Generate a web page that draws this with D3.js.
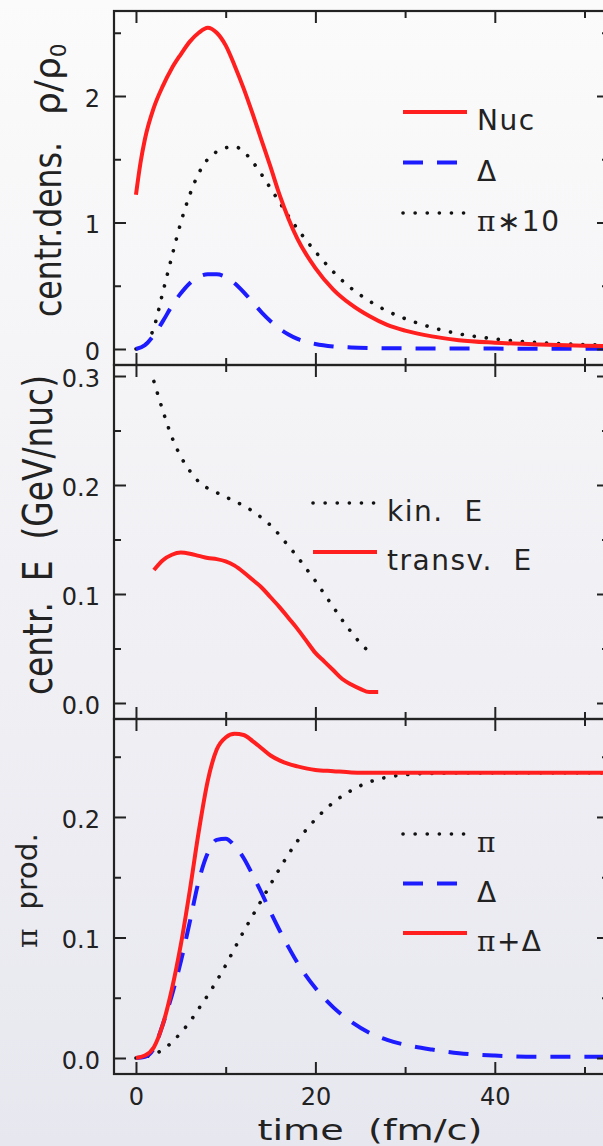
<!DOCTYPE html>
<html>
<head>
<meta charset="utf-8">
<script src="https://cdn.jsdelivr.net/npm/d3@7"></script>
<style>
  html, body { margin: 0; padding: 0; overflow: hidden; }
  svg { display: block; font-family: "DejaVu Sans", sans-serif; }
  .serif { font-family: "DejaVu Serif", serif; }
</style>
</head>
<body>
<div id="chart"></div>
<script>
// ---- data (time in fm/c) ----
// panel 1: central density rho/rho0
const tNuc   = [0, 0.5, 1, 2, 3, 4, 5, 6, 7, 8, 9, 10, 11, 12, 13, 14, 15, 16, 17, 18, 20, 22, 24, 26, 28, 30, 33, 36, 40, 45, 50, 55];
const nucDens = [1.22, 1.47, 1.66, 1.91, 2.08, 2.22, 2.33, 2.43, 2.50, 2.54, 2.50, 2.40, 2.24, 2.06, 1.86, 1.65, 1.44, 1.22, 1.03, 0.87, 0.64, 0.47, 0.35, 0.26, 0.19, 0.145, 0.10, 0.07, 0.05, 0.035, 0.025, 0.02];
const tDens  = [0, 1, 2, 3, 4, 5, 6, 7, 8, 9, 10, 11, 12, 13, 14, 15, 16, 17, 18, 20, 22, 24, 26, 28, 30, 33, 36, 40, 45, 50, 55];
const deltaDens = [0, 0.03, 0.11, 0.22, 0.34, 0.44, 0.52, 0.57, 0.59, 0.59, 0.57, 0.52, 0.45, 0.37, 0.29, 0.22, 0.16, 0.115, 0.08, 0.04, 0.02, 0.012, 0.008, 0.006, 0.005, 0.004, 0.003, 0.003, 0.002, 0.002, 0.002];
const pionDens10 = [0, 0.03, 0.17, 0.45, 0.73, 1.0, 1.22, 1.39, 1.50, 1.56, 1.59, 1.60, 1.56, 1.48, 1.38, 1.27, 1.16, 1.05, 0.95, 0.77, 0.61, 0.48, 0.38, 0.30, 0.24, 0.17, 0.12, 0.08, 0.05, 0.035, 0.025];

// panel 2: central energy (GeV/nuc)
const tKin  = [2, 3, 4, 5, 6, 7, 8, 9, 10, 11, 12, 13, 14, 15, 16, 17, 18, 19, 20, 21, 22, 23, 24, 25, 26];
const kinE  = [0.295, 0.268, 0.244, 0.226, 0.213, 0.203, 0.197, 0.193, 0.189, 0.185, 0.181, 0.176, 0.170, 0.163, 0.154, 0.144, 0.134, 0.123, 0.112, 0.100, 0.088, 0.076, 0.065, 0.055, 0.047];
const tTrans = [2, 3, 4, 5, 6, 7, 8, 9, 10, 11, 12, 13, 14, 15, 16, 17, 18, 19, 20, 21, 22, 23, 24, 25, 26, 27];
const transE = [0.122, 0.131, 0.136, 0.138, 0.137, 0.135, 0.133, 0.132, 0.130, 0.126, 0.120, 0.113, 0.106, 0.097, 0.088, 0.078, 0.068, 0.057, 0.046, 0.038, 0.030, 0.022, 0.017, 0.013, 0.010, 0.010];

// panel 3: pion production
const tProd = [0, 1, 2, 3, 4, 5, 6, 7, 8, 9, 10, 11, 12, 13, 14, 15, 16, 17, 18, 20, 22, 24, 26, 28, 30, 33, 36, 40, 45, 50, 55];
const pionProd  = [0, 0.001, 0.003, 0.007, 0.013, 0.021, 0.030, 0.041, 0.052, 0.064, 0.077, 0.091, 0.105, 0.118, 0.131, 0.144, 0.157, 0.169, 0.180, 0.198, 0.212, 0.222, 0.229, 0.233, 0.235, 0.2362, 0.2365, 0.2366, 0.2366, 0.2366, 0.2366];
const deltaProd = [0, 0.001, 0.008, 0.028, 0.052, 0.080, 0.113, 0.147, 0.170, 0.181, 0.182, 0.176, 0.166, 0.152, 0.137, 0.121, 0.106, 0.092, 0.079, 0.058, 0.042, 0.030, 0.021, 0.015, 0.011, 0.007, 0.004, 0.002, 0.001, 0.001, 0.001];
const sumProd   = [0, 0.002, 0.009, 0.028, 0.057, 0.094, 0.139, 0.188, 0.230, 0.256, 0.266, 0.269, 0.268, 0.263, 0.257, 0.251, 0.247, 0.244, 0.242, 0.239, 0.238, 0.237, 0.2367, 0.2366, 0.2366, 0.2366, 0.2366, 0.2366, 0.2366, 0.2366, 0.2366];

// ticks
const xMajor = [0, 20, 40], xMinor = [10, 30, 50];
const y1Major = [0, 1, 2], y1Minor = [0.5, 1.5, 2.5];
const y2Major = [0, 0.1, 0.2, 0.3], y2Minor = [0.05, 0.15, 0.25];
const y3Major = [0, 0.1, 0.2], y3Minor = [0.05, 0.15, 0.25];

// ---- layout ----
const W = 603, H = 1146;
const left = 114, right = 609;
const RED = "#ff1f1f", BLUE = "#1c1cff", BLK = "#111";

const svg = d3.select("#chart").append("svg")
  .attr("width", W).attr("height", H);

const defs = svg.append("defs");
const grad = defs.append("linearGradient").attr("id", "bg")
  .attr("x1", 0).attr("y1", 0).attr("x2", 0).attr("y2", 1);
grad.append("stop").attr("offset", "0%").attr("stop-color", "#fbfbfb");
grad.append("stop").attr("offset", "100%").attr("stop-color", "#e7e7ef");
svg.append("rect").attr("width", W).attr("height", H).attr("fill", "url(#bg)");

const x = d3.scaleLinear().domain([-2.45, 52.73]).range([left, right]);

const panels = [
  { top: 11,  bottom: 365,  domain: [-0.1265, 2.672], major: y1Major, minor: y1Minor, fmt: d3.format("d") },
  { top: 365, bottom: 719,  domain: [-0.01468, 0.3101], major: y2Major, minor: y2Minor, fmt: d3.format(".1f") },
  { top: 719, bottom: 1074, domain: [-0.01328, 0.2813], major: y3Major, minor: y3Minor, fmt: d3.format(".1f") }
];

panels.forEach((p, i) => {
  p.y = d3.scaleLinear().domain(p.domain).range([p.bottom, p.top]);
  p.g = svg.append("g");
  defs.append("clipPath").attr("id", "clip" + i)
    .append("rect").attr("x", left).attr("y", p.top)
    .attr("width", right - left).attr("height", p.bottom - p.top);
  p.plot = p.g.append("g").attr("clip-path", `url(#clip${i})`);
});

// axes (ticks point inward)
function styleAxis(sel) {
  sel.select(".domain").remove();
  sel.selectAll(".tick line").attr("stroke", "#222").attr("stroke-width", 2);
  sel.selectAll(".tick text").attr("fill", "#222").attr("font-size", 24)
    .attr("font-family", "DejaVu Sans, sans-serif");
}

panels.forEach((p, i) => {
  const g = p.g;
  g.append("g").attr("transform", `translate(${left},0)`)
    .call(d3.axisLeft(p.y).tickValues(p.major).tickSize(-12).tickPadding(14).tickFormat(p.fmt))
    .call(styleAxis)
    .selectAll(".tick text").attr("dy", "0.42em");
  g.append("g").attr("transform", `translate(${left},0)`)
    .call(d3.axisLeft(p.y).tickValues(p.minor).tickSize(-7).tickFormat(""))
    .call(styleAxis);
  g.append("g").attr("transform", `translate(${right},0)`)
    .call(d3.axisRight(p.y).tickValues(p.major).tickSize(-12).tickFormat(""))
    .call(styleAxis);
  g.append("g").attr("transform", `translate(${right},0)`)
    .call(d3.axisRight(p.y).tickValues(p.minor).tickSize(-7).tickFormat(""))
    .call(styleAxis);

  const bottomAxis = d3.axisBottom(x).tickValues(xMajor).tickSize(-12).tickPadding(14)
    .tickFormat(i === 2 ? d3.format("d") : "");
  g.append("g").attr("transform", `translate(0,${p.bottom})`)
    .call(bottomAxis).call(styleAxis);
  g.append("g").attr("transform", `translate(0,${p.bottom})`)
    .call(d3.axisBottom(x).tickValues(xMinor).tickSize(-7).tickFormat(""))
    .call(styleAxis);
  g.append("g").attr("transform", `translate(0,${p.top})`)
    .call(d3.axisTop(x).tickValues(xMajor).tickSize(-12).tickFormat(""))
    .call(styleAxis);
  g.append("g").attr("transform", `translate(0,${p.top})`)
    .call(d3.axisTop(x).tickValues(xMinor).tickSize(-7).tickFormat(""))
    .call(styleAxis);

  g.append("rect").attr("x", left).attr("y", p.top)
    .attr("width", right - left).attr("height", p.bottom - p.top)
    .attr("fill", "none").attr("stroke", "#222").attr("stroke-width", 2.2);
});

// line styles
const styles = {
  solid:  { stroke: RED,  width: 4,   dash: null,     cap: "butt" },
  dashed: { stroke: BLUE, width: 4,   dash: "20 14",  cap: "butt" },
  dotted: { stroke: BLK,  width: 3.6, dash: "0.1 12", cap: "round" }
};

function drawSeries(p, ts, vs, style) {
  const line = d3.line()
    .x(d => x(d[0])).y(d => p.y(d[1]))
    .curve(d3.curveMonotoneX);
  const s = styles[style];
  p.plot.append("path")
    .datum(d3.zip(ts, vs))
    .attr("d", line)
    .attr("fill", "none")
    .attr("stroke", s.stroke)
    .attr("stroke-width", s.width)
    .attr("stroke-dasharray", s.dash)
    .attr("stroke-linecap", s.cap)
    .attr("stroke-linejoin", "round");
}

drawSeries(panels[0], tDens, pionDens10, "dotted");
drawSeries(panels[0], tDens, deltaDens, "dashed");
drawSeries(panels[0], tNuc, nucDens, "solid");

drawSeries(panels[1], tKin, kinE, "dotted");
drawSeries(panels[1], tTrans, transE, "solid");

drawSeries(panels[2], tProd, pionProd, "dotted");
drawSeries(panels[2], tProd, deltaProd, "dashed");
drawSeries(panels[2], tProd, sumProd, "solid");

// legends
function legend(x0, y0, step, items) {
  const lg = svg.append("g").attr("transform", `translate(${x0},${y0})`);
  items.forEach((it, k) => {
    const s = styles[it.style];
    const yy = k * step;
    lg.append("line")
      .attr("x1", 0).attr("x2", it.len || 64).attr("y1", yy).attr("y2", yy)
      .attr("stroke", s.stroke).attr("stroke-width", s.width)
      .attr("stroke-dasharray", s.dash).attr("stroke-linecap", s.cap);
    const t = lg.append("text")
      .attr("x", (it.len || 64) + 10).attr("y", yy + 18)
      .attr("font-size", 28).attr("fill", "#222")
      .attr("letter-spacing", 1.5)
      .style("white-space", "pre");
    it.parts.forEach(pt => {
      t.append("tspan").attr("class", pt.serif ? "serif" : null).text(pt.s);
    });
  });
}

legend(403, 112, 50.5, [
  { style: "solid",  parts: [{ s: "Nuc" }] },
  { style: "dashed", parts: [{ s: "Δ" }] },
  { style: "dotted", parts: [{ s: "π", serif: true }, { s: "∗10" }] }
]);
legend(313, 503, 49, [
  { style: "dotted", parts: [{ s: "kin.  E" }] },
  { style: "solid",  parts: [{ s: "transv.  E" }] }
]);
legend(403, 834, 49.5, [
  { style: "dotted", parts: [{ s: "π", serif: true }] },
  { style: "dashed", parts: [{ s: "Δ" }] },
  { style: "solid",  parts: [{ s: "π", serif: true }, { s: "+Δ" }] }
]);

// axis titles
function yTitle(tx, ty, size, len, parts) {
  const t = svg.append("g").attr("transform", `translate(${tx},${ty}) rotate(-90)`)
    .append("text").attr("x", 0).attr("y", 0)
    .attr("font-size", size).attr("fill", "#222")
    .style("white-space", "pre");
  if (len) t.attr("textLength", len).attr("lengthAdjust", "spacingAndGlyphs");
  parts.forEach(pt => {
    const sp = t.append("tspan").text(pt.s);
    if (pt.serif) sp.attr("class", "serif");
    if (pt.sub) sp.attr("font-size", size * 0.6).attr("baseline-shift", "-25%");
  });
  return t;
}

yTitle(61, 317, 38, 175, [{ s: "centr.dens." }]);
yTitle(60, 115, 36, null, [{ s: "ρ/ρ" }, { s: "0", sub: true }]);
yTitle(52, 695, 40, 320, [{ s: "centr.  E  (GeV/nuc)" }]);
yTitle(37, 948, 28, 115, [{ s: "π", serif: true }, { s: "  prod." }]);

svg.append("text")
  .attr("x", 370).attr("y", 1140)
  .attr("text-anchor", "middle")
  .attr("font-size", 28).attr("fill", "#222")
  .attr("textLength", 225).attr("lengthAdjust", "spacingAndGlyphs")
  .style("white-space", "pre")
  .text("time  (fm/c)");
</script>
</body>
</html>
